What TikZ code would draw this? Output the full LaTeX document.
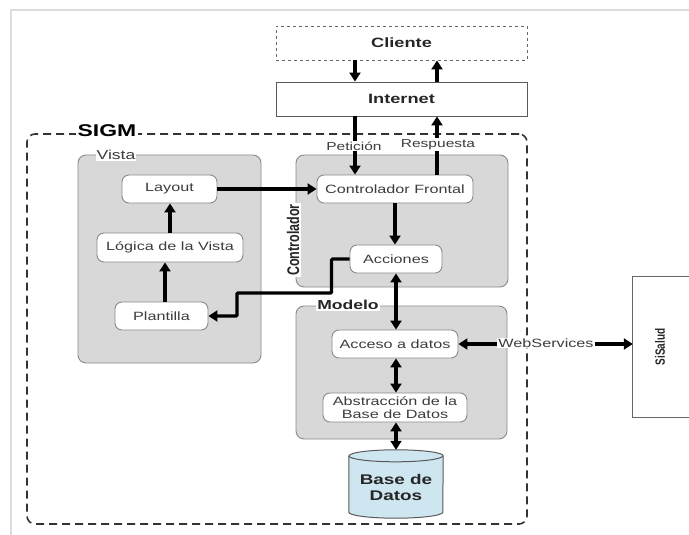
\documentclass[tikz,border=0pt]{standalone}
\usepackage{fontspec}
\setmainfont{Liberation Sans}[FakeStretch=1.35]
\newfontfamily\rotfont{Liberation Sans}
\usetikzlibrary{arrows.meta}
\definecolor{boxgray}{HTML}{D8D8D8}
\definecolor{boxline}{HTML}{8A8A8A}
\definecolor{txtgray}{HTML}{3C3C3C}
\definecolor{framegray}{HTML}{DCDCDC}
\definecolor{dbblue}{HTML}{CDE6EF}
\tikzset{
  group/.style={draw=boxline, fill=boxgray, line width=0.9pt, rounded corners=8pt, inner sep=0pt},
  inner/.style={draw=boxline, fill=white, line width=0.9pt, rounded corners=7pt, inner sep=0pt, align=center,
    font=\fontsize{12}{13}\selectfont, text=txtgray},
  grouplabel/.style={fill=white, inner sep=1pt, font=\bfseries\fontsize{13}{14}\selectfont, text=black!85},
  arr/.style={line width=3.2pt, -{Triangle[length=9pt,width=11pt]}},
  dbl/.style={line width=3.2pt, {Triangle[length=9pt,width=11pt]}-{Triangle[length=9pt,width=11pt]}},
  flowlabel/.style={fill=white, inner sep=1pt, font=\fontsize{11.5}{12}\selectfont, text=txtgray},
}
\begin{document}
\begin{tikzpicture}[x=1pt,y=-1pt]
\useasboundingbox (0,0) rectangle (689,535);
% outer screenshot frame
\draw[framegray, line width=2pt] (11,535) -- (11,10) -- (689,10);

% SIGM frame
\node[draw=black!80, line width=1.6pt, dash pattern=on 8pt off 5pt, rounded corners=8pt,
  minimum width=500pt, minimum height=390pt, inner sep=0pt] (sigm) at (277,329) {};
\node[fill=white, inner sep=2pt, font=\bfseries\fontsize{17}{18}\selectfont] (sigmlabel) at (107,131) {SIGM};

% Cliente and Internet
\node[draw=black!60, dashed, line width=0.9pt, minimum width=251pt, minimum height=34pt, inner sep=0pt,
  font=\bfseries\fontsize{13.5}{14}\selectfont, text=black!85] (cliente) at (401.5,43) {Cliente};
\node[draw=black!65, line width=0.9pt, minimum width=251pt, minimum height=34pt, inner sep=0pt, fill=white,
  font=\bfseries\fontsize{13.5}{14}\selectfont, text=black!85] (internet) at (401.5,99) {Internet};

\coordinate (xa) at (355,0);
\coordinate (xb) at (437,0);

% Vista group
\node[group, minimum width=183pt, minimum height=208pt] (vista) at (169.5,259) {};
\node[fill=white, inner sep=1pt, font=\fontsize{13}{14}\selectfont, text=txtgray] (vistalabel) at (116,155) {Vista};
\node[inner, minimum width=95pt, minimum height=28pt] (layout) at (169.5,189) {Layout};
\node[inner, minimum width=146pt, minimum height=29pt] (logica) at (170,247.5) {Lógica de la Vista};
\node[inner, minimum width=93pt, minimum height=28pt] (plant) at (161.5,316) {Plantilla};

% Controlador group
\node[group, minimum width=212pt, minimum height=132pt] (ctrl) at (402,221) {};
\node[xscale=1.35, rotate=90, fill=white, inner sep=1pt, font=\rotfont\bfseries\fontsize{12.5}{13}\selectfont, text=black!85] (ctrllabel) at (293,240) {Controlador};
\node[inner, minimum width=156pt, minimum height=28pt] (cf) at (395,189) {Controlador Frontal};
\node[inner, minimum width=92pt, minimum height=28pt] (acc) at (396,259) {Acciones};

% Modelo group
\node[group, minimum width=211pt, minimum height=133pt] (modelo) at (401.5,372.5) {};
\node[grouplabel] (modelolabel) at (348,305) {Modelo};
\node[inner, minimum width=126pt, minimum height=28pt] (acceso) at (395,344) {Acceso a datos};
\node[inner, minimum width=144pt, minimum height=29pt, font=\fontsize{12}{13.5}\selectfont] (abs) at (395,407.5) {Abstracción de la\\Base de Datos};

% Base de Datos cylinder
\node[minimum width=94pt, minimum height=68pt, inner sep=0pt] (bd) at (396,484) {};
\draw[draw=black!65, fill=dbblue, line width=1pt]
  ([yshift=-6pt]bd.north west) -- ([yshift=6pt]bd.south west)
  arc[start angle=180, end angle=360, x radius=47pt, y radius=6pt]
  -- ([yshift=-6pt]bd.north east)
  arc[start angle=0, end angle=180, x radius=47pt, y radius=6pt] -- cycle;
\draw[draw=black!65, line width=1pt] ([yshift=-6pt]bd.north west)
  arc[start angle=180, end angle=360, x radius=47pt, y radius=6pt];
\node[align=center, font=\bfseries\fontsize{14}{16}\selectfont, text=black!85] (bdtext) at (396,487) {Base de\\Datos};

% SiSalud
\node[minimum width=56pt, minimum height=140pt, inner sep=0pt] (sisalud) at (661,347) {};
\draw[draw=black!60, line width=0.9pt] (sisalud.north east) -- (sisalud.north west) -- (sisalud.south west) -- (sisalud.south east);
\node[xscale=1.35, rotate=90, font=\rotfont\bfseries\fontsize{10}{11}\selectfont, text=black!85] (sisaludtext) at (660,347) {SiSalud};

% connectors
\draw[arr] (cliente.south -| xa) -- (internet.north -| xa);
\draw[arr] (internet.north -| xb) -- (cliente.south -| xb);
\draw[arr] (internet.south -| xa) -- (cf.north -| xa);
\draw[arr] (cf.north -| xb) -- (internet.south -| xb);
\node[flowlabel] (petlabel) at (354,146) {Petición};
\node[flowlabel] (resplabel) at (438,144.5) {Respuesta};

\draw[arr] (plant.north -| 165,0) -- (logica.south -| 165,0);
\draw[arr] (logica.north -| 170,0) -- (layout.south -| 170,0);
\draw[arr] (layout.east) -- (cf.west);
\draw[arr] (cf.south) -- (acc.north -| cf.south);
\draw[arr, rounded corners=1pt] (acc.west) -- ++(-18,0) |- (237,293) |- (plant.east);
\draw[dbl] (acc.south) -- (acceso.north -| acc.south);
\draw[dbl] (acceso.south -| acc.south) -- (abs.north -| acc.south);
\draw[dbl] (abs.south -| acc.south) -- (bd.north);
\draw[dbl] (acceso.east) -- (sisalud.west |- acceso.east);
\node[fill=white, inner sep=1pt, font=\fontsize{12}{13}\selectfont, text=txtgray] (wslabel) at (546,343) {WebServices};
\end{tikzpicture}
\end{document}
